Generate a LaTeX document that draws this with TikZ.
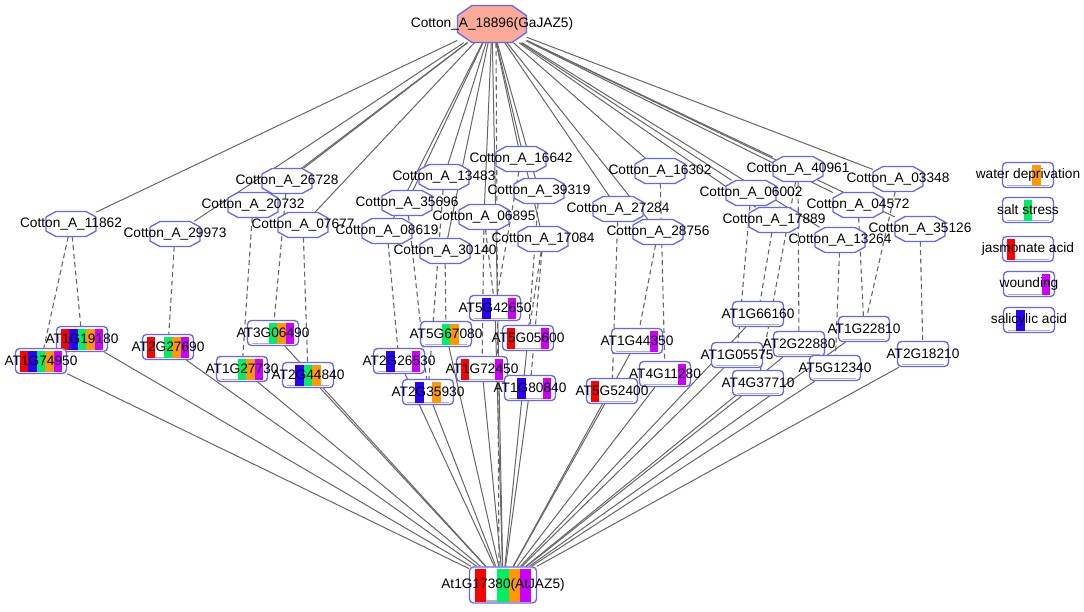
\documentclass[tikz,border=0pt]{standalone}
\usepackage{fontspec}
\setmainfont{Liberation Sans}
\usetikzlibrary{calc}
\pgfdeclarelayer{bg}
\pgfdeclarelayer{mid}
\pgfsetlayers{bg,mid,main}
\definecolor{nb}{HTML}{6464FF}
\definecolor{eg}{HTML}{666666}
\definecolor{cJ}{HTML}{FF0000}
\definecolor{cS}{HTML}{2A00FF}
\definecolor{cG}{HTML}{00EE66}
\definecolor{cW}{HTML}{FF9900}
\definecolor{cP}{HTML}{CC00FF}
\definecolor{salmonfill}{HTML}{FAAA96}
\newcommand\strips[7]{%
  \draw[gray!60, line width=1.6pt, sharp corners] ($(path picture bounding box.south west)+(0.09*#1pt,2.2pt)$) -- ($(path picture bounding box.south east)+(-0.09*#1pt,2.2pt)$);
  \foreach \c/\f [count=\i] in {cJ/#3,cS/#4,cG/#5,cW/#6,cP/#7}{%
    \ifnum\f=1
    \fill[\c, sharp corners] ($(path picture bounding box.south west)+({0.085*#1pt+(\i-1)*0.166*#1pt},1.5pt)$) rectangle ++({0.166*#1pt},{#2pt-3.5pt});
    \fi}}
\newcommand\atn[4]{\node[atbox, path picture={\strips{51}{25}#4}] (#1) at (#2) {\makebox[0pt]{#3}};}
% octagon node: name, position, text, fill, half width, half height, half top edge, half side edge
\newcommand\octagon[8]{%
  \node[oct, minimum width=2*#5, minimum height=2*#6] (#1) at (#2) {\makebox[0pt]{#3}};
  \begin{pgfonlayer}{mid}
  \draw[octl, fill=#4] (#1.center) +(-#5,-#8) -- +(-#5,#8) -- +(-#7,#6) -- +(#7,#6) -- +(#5,#8) -- +(#5,-#8) -- +(#7,-#6) -- +(-#7,-#6) -- cycle;
  \end{pgfonlayer}}
\newcommand\ctn[3]{\octagon{#1}{#2}{#3}{white}{25}{12.5}{15}{7}}
\begin{document}
\begin{tikzpicture}[x=1pt,y=-1pt,
  lbl/.style={font=\fontsize{13.7}{16}\selectfont},
  atbox/.style={lbl, draw=nb, line width=1.3pt, rounded corners=4pt, fill=white, minimum width=51pt, minimum height=25pt, inner sep=0pt},
  oct/.style={lbl, rectangle, draw=none, fill=none, inner sep=0pt},
  octl/.style={draw=nb, line width=1.3pt, line join=round},
  sol/.style={draw=eg, line width=1pt},
  dsh/.style={draw=eg, line width=1.1pt, dash pattern=on 5pt off 3.5pt}]
\useasboundingbox (0,0) rectangle (1084,611);
% hub nodes
\octagon{top}{492,24}{Cotton\_A\_18896(GaJAZ5)}{salmonfill}{34.5}{18.5}{20}{8.5}
\node[atbox, minimum width=67pt, minimum height=36pt, path picture={\strips{67}{36}{1}{0}{1}{1}{1}}] (bot) at (503,585) {\makebox[0pt]{At1G17380(AtJAZ5)}};
% cotton nodes
\ctn{c11862}{71,224}{Cotton\_A\_11862}
\ctn{c29973}{175,234}{Cotton\_A\_29973}
\ctn{c26728}{287,181}{Cotton\_A\_26728}
\ctn{c20732}{253,205}{Cotton\_A\_20732}
\ctn{c07677}{303,225}{Cotton\_A\_07677}
\ctn{c16642}{521,159}{Cotton\_A\_16642}
\ctn{c13483}{444,177}{Cotton\_A\_13483}
\ctn{c39319}{539,191}{Cotton\_A\_39319}
\ctn{c35696}{407,203}{Cotton\_A\_35696}
\ctn{c06895}{484,217}{Cotton\_A\_06895}
\ctn{c08619}{387,231}{Cotton\_A\_08619}
\ctn{c17084}{543,239}{Cotton\_A\_17084}
\ctn{c30140}{445,251}{Cotton\_A\_30140}
\ctn{c16302}{660,171}{Cotton\_A\_16302}
\ctn{c27284}{618,209}{Cotton\_A\_27284}
\ctn{c28756}{658,232}{Cotton\_A\_28756}
\ctn{c40961}{798,169}{Cotton\_A\_40961}
\ctn{c03348}{898,179}{Cotton\_A\_03348}
\ctn{c06002}{751,193}{Cotton\_A\_06002}
\ctn{c04572}{858,205}{Cotton\_A\_04572}
\ctn{c17889}{774,220}{Cotton\_A\_17889}
\ctn{c13264}{840,240}{Cotton\_A\_13264}
\ctn{c35126}{920,229}{Cotton\_A\_35126}
% arabidopsis nodes
\atn{a19180}{82,339}{AT1G19180}{{1}{1}{1}{1}{1}}
\atn{a74950}{41,361}{AT1G74950}{{1}{1}{1}{1}{1}}
\atn{a27690}{168,347}{AT2G27690}{{1}{0}{1}{1}{1}}
\atn{a06490}{273,333}{AT3G06490}{{0}{0}{1}{1}{1}}
\atn{a27730}{242,369}{AT1G27730}{{0}{0}{1}{1}{1}}
\atn{a44840}{308,375}{AT2G44840}{{0}{1}{1}{1}{0}}
\atn{a42650}{495,308}{AT5G42650}{{0}{1}{0}{0}{1}}
\atn{a67080}{446,334}{AT5G67080}{{0}{0}{1}{1}{0}}
\atn{a05600}{528,338}{AT5G05600}{{1}{0}{0}{0}{1}}
\atn{a26530}{399,361}{AT2G26530}{{0}{1}{0}{0}{1}}
\atn{a72450}{482,369}{AT1G72450}{{1}{0}{0}{0}{1}}
\atn{a35930}{428,392}{AT2G35930}{{0}{1}{0}{1}{0}}
\atn{a80840}{530,388}{AT1G80840}{{0}{1}{0}{0}{1}}
\atn{a44350}{637,341}{AT1G44350}{{0}{0}{0}{0}{1}}
\atn{a11280}{665,374}{AT4G11280}{{0}{0}{0}{0}{1}}
\atn{a52400}{612,391}{AT5G52400}{{1}{0}{0}{0}{0}}
\atn{a66160}{758,314}{AT1G66160}{{0}{0}{0}{0}{0}}
\atn{a22880}{799,344}{AT2G22880}{{0}{0}{0}{0}{0}}
\atn{a22810}{864,329}{AT1G22810}{{0}{0}{0}{0}{0}}
\atn{a05575}{737,355}{AT1G05575}{{0}{0}{0}{0}{0}}
\atn{a12340}{835,368}{AT5G12340}{{0}{0}{0}{0}{0}}
\atn{a18210}{923,354}{AT2G18210}{{0}{0}{0}{0}{0}}
\atn{a37710}{758,383}{AT4G37710}{{0}{0}{0}{0}{0}}
% legend
\atn{lW}{1028,175}{water deprivation}{{0}{0}{0}{1}{0}}
\atn{lS}{1028,210}{salt stress}{{0}{0}{1}{0}{0}}
\atn{lJ}{1028,249}{jasmonate acid}{{1}{0}{0}{0}{0}}
\atn{lP}{1029,284}{wounding}{{0}{0}{0}{0}{1}}
\atn{lB}{1029,320}{salicylic acid}{{0}{1}{0}{0}{0}}
% edges
\begin{pgfonlayer}{bg}
\foreach \n in {c11862,c29973,c26728,c20732,c07677,c16642,c13483,c39319,c35696,c06895,c08619,c17084,c30140,c16302,c27284,c28756,c40961,c03348,c06002,c04572,c17889,c13264,c35126}
  \draw[sol] (top) -- (\n);
\draw[sol] (top) -- (bot);
\draw[dsh] ([xshift=4pt]top.south) -- ([xshift=-4pt]bot.north);
\foreach \a/\b in {c11862/a19180,c11862/a74950,c29973/a27690,c26728/a06490,c20732/a27730,c07677/a44840,
  c08619/a26530,c35696/a35930,c13483/a35930,c30140/a67080,c06895/a42650,c16642/a42650,c06895/a72450,
  c39319/a05600,c17084/a05600,c17084/a80840,
  c27284/a52400,c28756/a44350,c16302/a11280,
  c06002/a05575,c17889/a66160,c40961/a37710,c40961/a22880,c13264/a12340,c04572/a22810,c03348/a22810,c35126/a18210}
  \draw[dsh] (\a) -- (\b);
\foreach \n in {a19180,a74950,a27690,a06490,a27730,a44840,a42650,a67080,a05600,a26530,a72450,a35930,a80840,a44350,a11280,a52400,a66160,a22880,a22810,a05575,a12340,a18210,a37710}
  \draw[sol] (\n) -- (bot);
\end{pgfonlayer}
\end{tikzpicture}
\end{document}
